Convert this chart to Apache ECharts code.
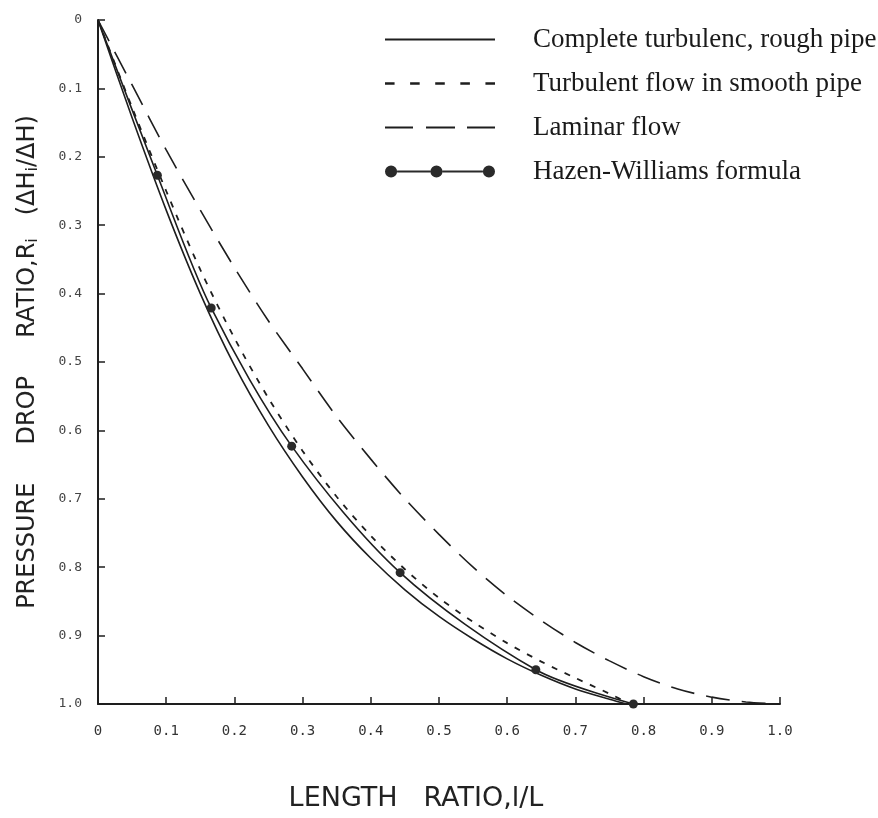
<!DOCTYPE html>
<html>
<head>
<meta charset="utf-8">
<script src="https://cdn.jsdelivr.net/npm/echarts@6/dist/echarts.min.js"></script>
<style>
html,body{margin:0;padding:0;background:#fff;}
#chart{width:878px;height:818px;}
</style>
</head>
<body>
<div id="chart"></div>
<script>
// ---- data ----
const tickLabels = ['0','0.1','0.2','0.3','0.4','0.5','0.6','0.7','0.8','0.9','1.0'];
const seriesNames = ['Complete turbulenc, rough pipe','Turbulent flow in smooth pipe','Laminar flow','Hazen-Williams formula'];

const roughX = [0, 0.05, 0.10, 0.15, 0.20, 0.25, 0.30, 0.35, 0.40, 0.45, 0.50, 0.55, 0.60, 0.65, 0.70, 0.75, 0.775];
const roughY = [0, 0.143, 0.278, 0.400, 0.505, 0.593, 0.668, 0.733, 0.787, 0.833, 0.872, 0.905, 0.934, 0.958, 0.978, 0.993, 1.0];

const smoothX = [0, 0.05, 0.10, 0.15, 0.20, 0.25, 0.30, 0.35, 0.40, 0.45, 0.50, 0.55, 0.60, 0.65, 0.70, 0.75, 0.78];
const smoothY = [0, 0.128, 0.250, 0.365, 0.465, 0.553, 0.630, 0.697, 0.754, 0.803, 0.845, 0.880, 0.911, 0.938, 0.962, 0.985, 1.0];

const laminarX = [0, 0.05, 0.10, 0.15, 0.20, 0.25, 0.30, 0.35, 0.40, 0.45, 0.50, 0.55, 0.60, 0.65, 0.70, 0.75, 0.80, 0.85, 0.90, 0.95, 1.0];
const laminarY = [0, 0.095, 0.190, 0.278, 0.362, 0.440, 0.510, 0.580, 0.642, 0.700, 0.752, 0.800, 0.842, 0.878, 0.910, 0.937, 0.960, 0.978, 0.990, 0.997, 1.0];

const hwX = [0, 0.087, 0.166, 0.284, 0.443, 0.642, 0.785];
const hwY = [0, 0.227, 0.421, 0.623, 0.808, 0.950, 1.0];

function pairs(xs, ys){ return xs.map((x,i)=>[x, ys[i]]); }

// legend sample icons (drawn as filled paths, 110 x 14 box)
function circ(cx){ return 'M'+(cx-6)+',7a6,6 0 1,0 12,0a6,6 0 1,0 -12,0Z'; }
const iconSolid   = 'path://M0,6h110v2h-110Z';
const iconShort   = 'path://M2,6h8v2h-8Z M23,6h8v2h-8Z M44,6h8v2h-8Z M65,6h8v2h-8Z M86,6h8v2h-8Z';
const iconLong    = 'path://M0,6h28v2h-28Z M41,6h29v2h-29Z M82,6h28v2h-28Z';
const iconHW      = 'path://' + circ(6) + ' M12,6h33v2h-33Z ' + circ(51) + ' M57,6h40v2h-40Z ' + circ(103);

const chart = echarts.init(document.getElementById('chart'), null, {renderer:'canvas'});
const ink = '#1e1e1e';
const labelFmt = v => tickLabels[Math.round(v*10)];

const option = {
  backgroundColor:'#ffffff',
  animation:false,
  grid:{left:98, right:98, top:20, bottom:114},
  legend:{
    orient:'vertical',
    left:380, top:21,
    itemWidth:110, itemHeight:14, itemGap:17,
    selectedMode:false,
    data:[
      {name:seriesNames[0], icon:iconSolid},
      {name:seriesNames[1], icon:iconShort},
      {name:seriesNames[2], icon:iconLong},
      {name:seriesNames[3], icon:iconHW}
    ],
    textStyle:{fontFamily:'Liberation Serif', fontSize:27, color:'#1a1a1a', lineHeight:27, padding:[0,0,0,33]}
  },
  xAxis:{
    type:'value', min:0, max:1, interval:0.1,
    name:'LENGTH   RATIO,l/L', nameLocation:'middle', nameGap:81,
    nameTextStyle:{fontFamily:'DejaVu Sans', fontSize:27, color:'#222', padding:[0,46,0,0]},
    axisLine:{show:true, onZero:false, lineStyle:{color:ink, width:2}},
    axisTick:{show:true, inside:true, length:7, lineStyle:{color:ink, width:1.5}},
    axisLabel:{formatter:labelFmt, margin:20, fontFamily:'DejaVu Sans Mono', fontSize:14, color:'#333'},
    splitLine:{show:false}
  },
  yAxis:{
    type:'value', min:0, max:1, interval:0.1, inverse:true,
    name:'{n|PRESSURE     DROP     RATIO,R}{s|i}{n|   (ΔH}{s|i}{n|/ΔH)}',
    nameLocation:'middle', nameGap:57,
    nameTextStyle:{
      rich:{
        n:{fontFamily:'DejaVu Sans', fontSize:24, color:'#222'},
        s:{fontFamily:'DejaVu Sans', fontSize:16, color:'#222', padding:[10,0,0,0]}
      }
    },
    axisLine:{show:true, onZero:false, lineStyle:{color:ink, width:2}},
    axisTick:{show:true, inside:true, length:7, lineStyle:{color:ink, width:1.5}},
    axisLabel:{formatter:labelFmt, margin:16, fontFamily:'DejaVu Sans Mono', fontSize:13, color:'#444'},
    splitLine:{show:false}
  },
  series:[
    {
      name:seriesNames[0], type:'line', data:pairs(roughX, roughY), smooth:0.3,
      symbol:'none', lineStyle:{color:ink, width:1.6, type:'solid'}, itemStyle:{color:ink}
    },
    {
      name:seriesNames[1], type:'line', data:pairs(smoothX, smoothY), smooth:0.3,
      symbol:'none', lineStyle:{color:ink, width:1.8, type:[6,8]}, itemStyle:{color:ink}
    },
    {
      name:seriesNames[2], type:'line', data:pairs(laminarX, laminarY), smooth:0.3,
      symbol:'none', lineStyle:{color:ink, width:1.6, type:[24,12]}, itemStyle:{color:ink}
    },
    {
      name:seriesNames[3], type:'line',
      data:pairs(hwX, hwY).map((p,i)=> i===0 ? {value:p, symbol:'none'} : {value:p}),
      smooth:0.3, symbol:'circle', symbolSize:9, showAllSymbol:true,
      lineStyle:{color:ink, width:1.6, type:'solid'}, itemStyle:{color:'#2a2a2a'}
    }
  ]
};
chart.setOption(option);
</script>
</body>
</html>
